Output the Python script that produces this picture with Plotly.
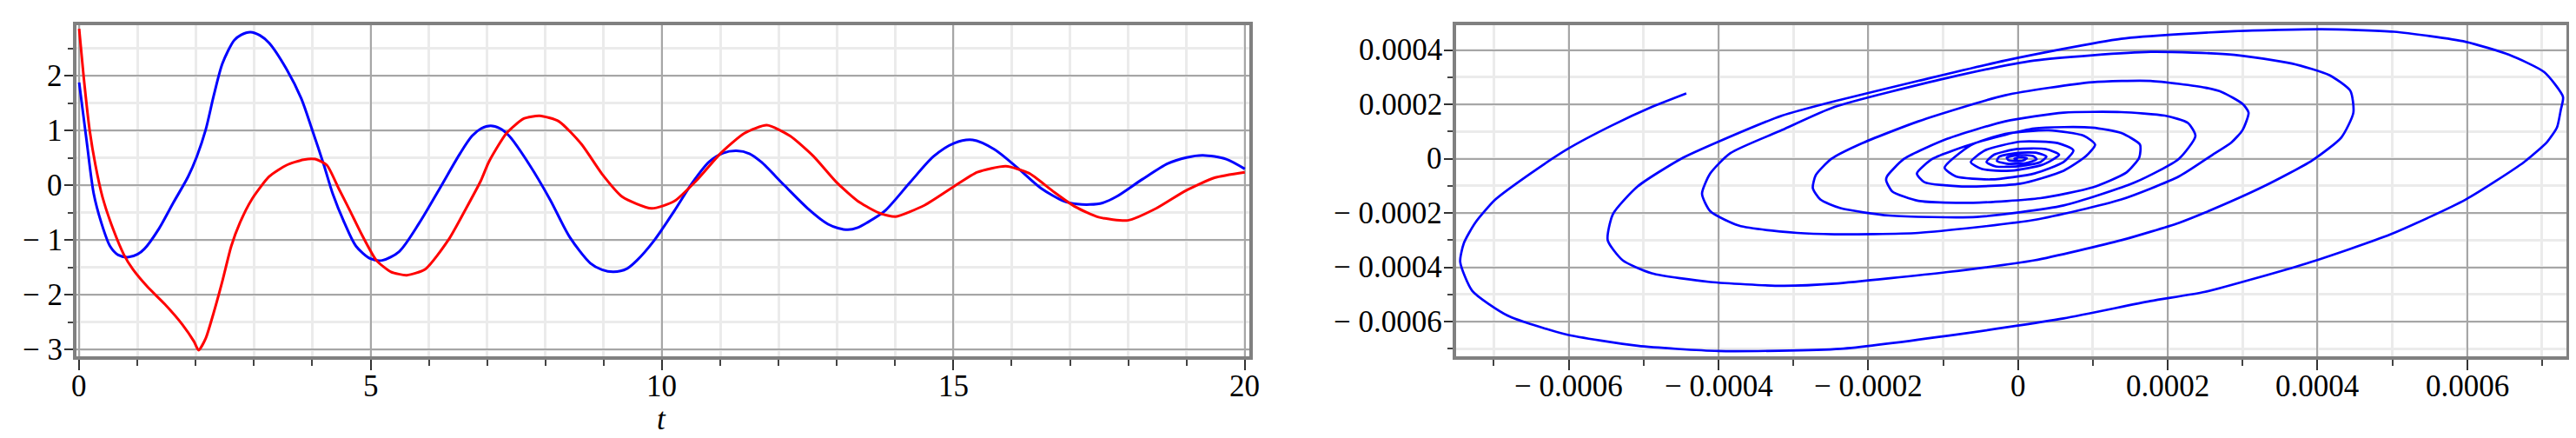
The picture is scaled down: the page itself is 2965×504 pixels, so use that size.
import plotly.graph_objects as go

# ---------------- left panel: time series ----------------
t_blue = [0, 0.13, 0.25, 0.38, 0.53, 0.67, 0.85, 1.0, 1.12, 1.37, 1.62, 1.87, 2.02, 2.17, 2.31, 2.46,
          2.66, 2.78, 2.94, 3.10, 3.26, 3.56, 3.81, 4.00, 4.20, 4.35, 4.55, 4.75, 5.00, 5.20, 5.49, 5.84,
          6.19, 6.54, 6.74, 6.90, 7.06, 7.22, 7.38, 7.73, 8.08, 8.42, 8.77, 8.97, 9.17, 9.40, 9.57, 9.87,
          10.21, 10.51, 10.81, 11.05, 11.28, 11.50, 11.70, 12.10, 12.50, 12.85, 13.02, 13.19, 13.36,
          13.52, 13.82, 14.26, 14.66, 15.01, 15.33, 15.70, 16.10, 16.50, 16.90, 17.12, 17.34, 17.56,
          17.79, 18.24, 18.68, 19.00, 19.28, 19.68, 20.0]
v_blue = [1.88, 0.80, -0.15, -0.68, -1.11, -1.27, -1.31, -1.26, -1.16, -0.79, -0.31, 0.16, 0.53, 1.01,
          1.64, 2.23, 2.65, 2.75, 2.80, 2.74, 2.60, 2.12, 1.59, 1.01, 0.37, -0.15, -0.68, -1.11, -1.34,
          -1.37, -1.21, -0.68, -0.05, 0.59, 0.90, 1.04, 1.09, 1.04, 0.90, 0.37, -0.26, -0.95, -1.42,
          -1.54, -1.58, -1.52, -1.37, -1.00, -0.47, 0.03, 0.43, 0.59, 0.63, 0.58, 0.43, 0.00, -0.42,
          -0.71, -0.78, -0.81, -0.77, -0.68, -0.47, 0.06, 0.53, 0.77, 0.83, 0.66, 0.32, -0.05, -0.29,
          -0.34, -0.35, -0.32, -0.21, 0.11, 0.40, 0.51, 0.55, 0.48, 0.30]

t_red = [0, 0.08, 0.18, 0.28, 0.40, 0.58, 0.77, 0.92, 1.17, 1.47, 1.77, 1.97, 2.05, 2.17, 2.31,
         2.46, 2.61, 2.76, 2.96, 3.26, 3.56, 3.85, 4.05, 4.25, 4.45, 4.65, 4.85, 5.10, 5.35, 5.62,
         5.94, 6.34, 6.64, 6.89, 7.03, 7.33, 7.63, 7.90, 8.23, 8.62, 8.97, 9.32, 9.82, 10.21,
         10.61, 11.01, 11.41, 11.80, 12.20, 12.60, 13.00, 13.39, 13.74, 14.01, 14.51, 15.01,
         15.41, 15.90, 16.30, 16.70, 17.09, 17.49, 17.99, 18.48, 18.98, 19.48, 20.0]
v_red = [2.86, 1.96, 1.01, 0.37, -0.21, -0.79, -1.27, -1.53, -1.85, -2.17, -2.54, -2.85, -3.01,
         -2.80, -2.32, -1.74, -1.11, -0.68, -0.26, 0.16, 0.37, 0.47, 0.48, 0.37, -0.05, -0.47,
         -0.90, -1.37, -1.58, -1.64, -1.53, -0.99, -0.42, 0.08, 0.43, 0.95, 1.22, 1.27, 1.17,
         0.75, 0.21, -0.21, -0.42, -0.29, 0.11, 0.59, 0.95, 1.10, 0.90, 0.53, 0.05, -0.31, -0.51,
         -0.57, -0.36, -0.02, 0.24, 0.35, 0.22, -0.10, -0.39, -0.58, -0.64, -0.42, -0.10, 0.14, 0.24]

t_ticks = [0, 5, 10, 15, 20]
t_labels = ["0", "5", "10", "15", "20"]
v_ticks = [-3, -2, -1, 0, 1, 2]
v_labels = ["\u2212 3", "\u2212 2", "\u2212 1", "0", "1", "2"]

# ---------------- right panel: phase portrait (values in units of 1e-4) ----------------
UNIT = 1e-4
phase_x = [-4.43, -4.89, -5.43, -6.01, -6.51, -6.98, -7.25, -7.40, -7.45, -7.29, -6.82, -6.05,
           -5.08, -4.00, -2.37, -0.94, 0.61, 1.77, 2.50, 3.86, 4.98, 5.98, 6.76, 7.07, 7.20, 7.25,
           7.28, 7.03, 6.56, 5.98, 5.02, 4.05, 2.89, 1.38, -0.17, -1.33, -2.45, -3.15, -4.00,
           -4.50, -5.08, -5.41, -5.48, -5.28, -4.89, -4.11, -3.15, -2.45, -0.94, 0.22, 1.38, 2.15,
           2.50, 3.28, 3.93, 4.32, 4.48, 4.44, 4.16, 3.66, 2.89, 1.77, 0.22, -0.94, -2.45, -3.15,
           -3.84, -4.11, -4.22, -4.11, -3.73, -2.95, -2.45, -1.33, 0.22, 1.38, 2.15, 2.60, 2.85,
           3.00, 3.08, 3.00, 2.73, 2.50, 1.77, 0.99, -0.17, -1.33, -2.10, -2.49, -2.70, -2.74,
           -2.64, -2.37, -1.72, -0.55, 0.61, 1.57, 2.15, 2.37, 2.27, 1.96, 1.38, 0.61, -0.17,
           -0.94, -1.52, -1.75, -1.76, -1.68, -1.33, -0.60, 0.30, 1.00, 1.45, 1.62, 1.63, 1.38,
           0.99, 0.22, -0.55, -1.14, -1.35, -1.25, -0.75, 0.03, 0.61, 0.91, 1.03, 0.88, 0.41,
           -0.17, -0.63, -0.98, -0.83, -0.36, 0.22, 0.61, 0.74, 0.53, 0.03, -0.44, -0.63, -0.48,
           -0.09, 0.33, 0.55, 0.37, -0.01, -0.32, -0.42, -0.30, 0.00, 0.30, 0.38, 0.25, 0.00,
           -0.25, -0.28, -0.15, 0.10, 0.25, 0.20, 0.00, -0.15, -0.12, 0.05, 0.12, 0.02, -0.05, 0.00]
phase_y = [2.41, 1.91, 1.22, 0.37, -0.54, -1.50, -2.36, -3.10, -3.80, -4.86, -5.77, -6.46, -6.89,
           -7.08, -7.00, -6.52, -5.88, -5.24, -4.90, -3.85, -2.78, -1.50, -0.12, 0.63, 1.16, 1.80,
           2.28, 3.19, 3.83, 4.31, 4.68, 4.77, 4.70, 4.42, 3.62, 2.87, 2.12, 1.59, 0.63, 0.00,
           -1.02, -2.04, -3.00, -3.74, -4.22, -4.54, -4.68, -4.60, -4.17, -3.74, -3.00, -2.36,
           -1.98, -1.02, -0.06, 0.79, 1.70, 2.50, 3.08, 3.51, 3.83, 3.94, 3.62, 2.98, 1.91, 1.06,
           0.21, -0.54, -1.29, -1.93, -2.46, -2.73, -2.78, -2.73, -2.25, -1.50, -0.65, 0.15, 0.60,
           1.06, 1.70, 2.02, 2.45, 2.62, 2.87, 2.82, 2.34, 1.38, 0.55, 0.00, -0.60, -1.08, -1.50,
           -1.82, -2.09, -2.14, -1.72, -0.86, 0.00, 0.84, 1.32, 1.59, 1.72, 1.70, 1.38, 0.74,
           0.00, -0.65, -0.80, -1.20, -1.55, -1.62, -1.45, -1.05, -0.50, 0.05, 0.52, 0.95, 1.15,
           1.12, 0.60, 0.00, -0.54, -0.86, -1.02, -0.92, -0.44, 0.10, 0.52, 0.85, 1.05, 0.92,
           0.50, -0.33, -0.65, -0.76, -0.54, -0.12, 0.31, 0.58, 0.63, 0.31, -0.12, -0.38, -0.44,
           -0.22, 0.15, 0.36, 0.36, 0.15, -0.12, -0.28, -0.28, -0.12, 0.08, 0.22, 0.22, 0.08,
           -0.08, -0.18, -0.16, -0.02, 0.10, 0.14, 0.04, -0.06, -0.08, 0.02, 0.06, 0.00, -0.02]

p_ticks = [-0.0006, -0.0004, -0.0002, 0, 0.0002, 0.0004, 0.0006]
p_labels = ["\u2212 0.0006", "\u2212 0.0004", "\u2212 0.0002", "0", "0.0002", "0.0004", "0.0006"]
q_ticks = [-0.0006, -0.0004, -0.0002, 0, 0.0002, 0.0004]
q_labels = ["\u2212 0.0006", "\u2212 0.0004", "\u2212 0.0002", "0", "0.0002", "0.0004"]

W, H = 2965, 504
FONT = dict(family="Liberation Serif, Times New Roman, serif", size=35, color="black")

fig = go.Figure()
fig.add_trace(go.Scatter(x=t_blue, y=v_blue, mode="lines",
                         line=dict(color="#0000ff", width=3, shape="spline", smoothing=0.8),
                         xaxis="x", yaxis="y", hoverinfo="skip"))
fig.add_trace(go.Scatter(x=t_red, y=v_red, mode="lines",
                         line=dict(color="#ff0000", width=3, shape="spline", smoothing=0.6),
                         xaxis="x", yaxis="y", hoverinfo="skip"))
fig.add_trace(go.Scatter(x=[a * UNIT for a in phase_x], y=[b * UNIT for b in phase_y], mode="lines",
                         line=dict(color="#0000ff", width=2.7, shape="spline", smoothing=0.6),
                         xaxis="x2", yaxis="y2", hoverinfo="skip"))


def axis(domain, rng, tickvals, ticklen, minor_dtick, minor_len, anchor):
    return dict(
        domain=domain, range=rng, anchor=anchor,
        tickmode="array", tickvals=tickvals, showticklabels=False,
        showline=True, linecolor="#808080", linewidth=4, mirror=True,
        ticks="outside", ticklen=ticklen, tickwidth=2, tickcolor="#333333",
        showgrid=True, gridcolor="#a6a6a6", gridwidth=2, zeroline=False,
        minor=dict(dtick=minor_dtick, tick0=0, ticks="outside", ticklen=minor_len,
                   tickwidth=2, tickcolor="#444444", showgrid=True,
                   gridcolor="#ebebeb", gridwidth=3),
        fixedrange=True,
    )


ydom = [1 - 401.5 / H, 1 - 20.7 / H]
XLAB_Y = 1 - 436 / H

annotations = []
for v, s in zip(t_ticks, t_labels):
    annotations.append(dict(text=s, x=v, xref="x", y=XLAB_Y, yref="paper", xanchor="center",
                            yanchor="middle", showarrow=False, font=FONT))
for v, s in zip(v_ticks, v_labels):
    annotations.append(dict(text=s, x=66 / W, xref="paper", y=v, yref="y", xanchor="right",
                            yanchor="middle", showarrow=False, font=FONT))
for v, s in zip(p_ticks, p_labels):
    annotations.append(dict(text=s, x=v, xref="x2", y=XLAB_Y, yref="paper", xanchor="center",
                            yanchor="middle", showarrow=False, font=FONT))
for v, s in zip(q_ticks, q_labels):
    annotations.append(dict(text=s, x=1654 / W, xref="paper", y=v, yref="y2", xanchor="right",
                            yanchor="middle", showarrow=False, font=FONT))
annotations.append(dict(text="<i>t</i>", x=10, xref="x", y=1 - 474 / H, yref="paper",
                        xanchor="center", yanchor="middle", showarrow=False, font=FONT))

fig.update_layout(
    width=W, height=H,
    margin=dict(l=0, r=0, t=0, b=0),
    paper_bgcolor="white", plot_bgcolor="white",
    showlegend=False,
    xaxis=axis([80.4 / W, 1429.5 / W], [-0.04, 20.07], t_ticks, 12, 1, 7, "y"),
    yaxis=axis(ydom, [-3.114, 2.93], v_ticks, 10, 0.5, 6, "x"),
    xaxis2=axis([1668.4 / W, 2945.5 / W], [-0.00075, 0.000732], p_ticks, 12, 0.0001, 7, "y2"),
    yaxis2=axis(ydom, [-0.000726, 0.000493], q_ticks, 10, 0.0001, 6, "x2"),
    annotations=annotations,
)

fig.write_html("out.html")
